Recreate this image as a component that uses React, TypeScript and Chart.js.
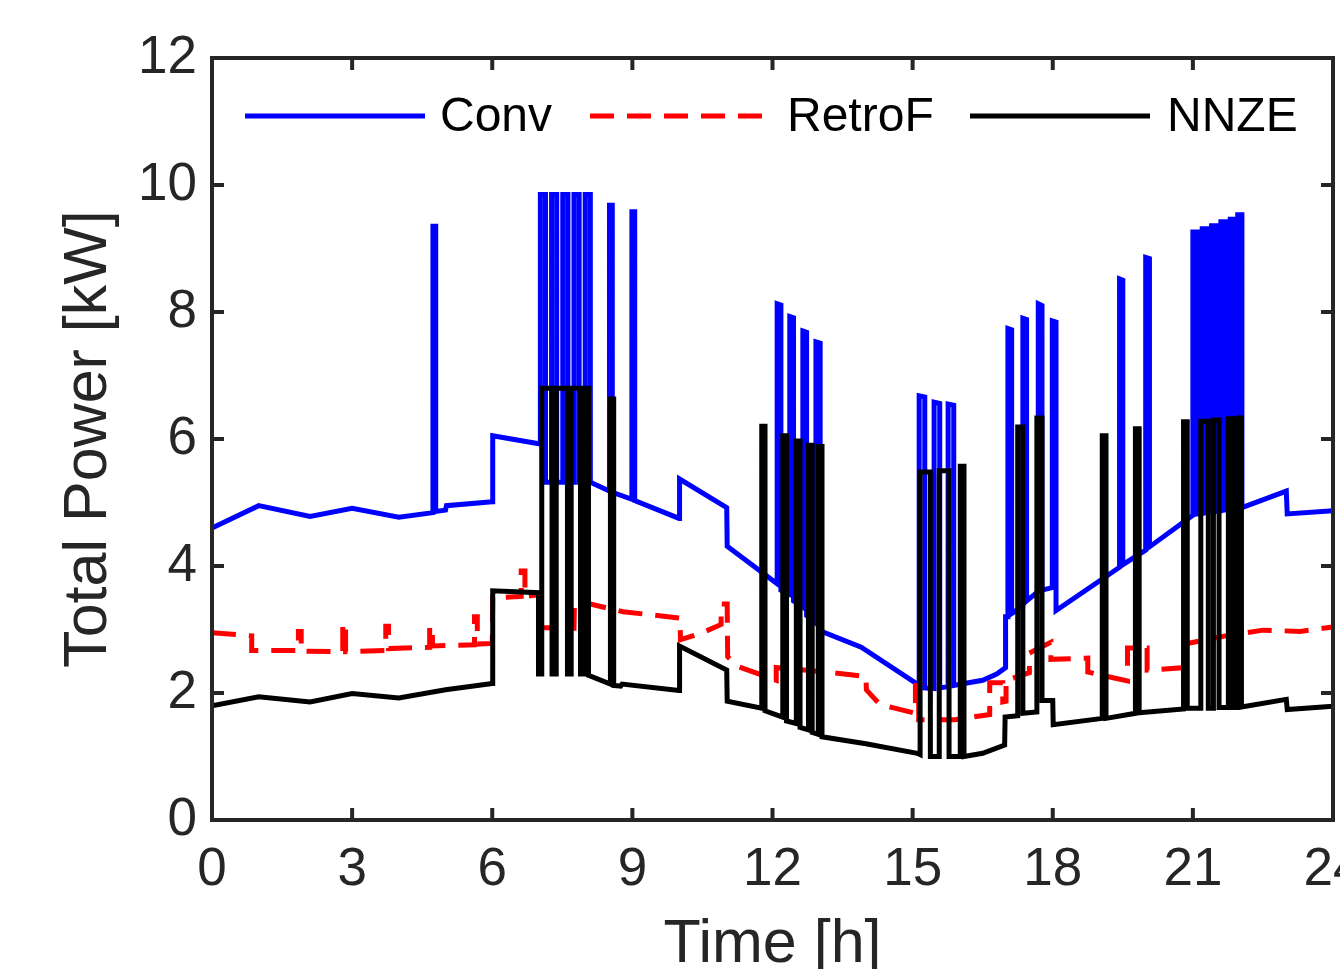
import React, { useEffect, useRef } from "react";
import { Chart, registerables } from "chart.js";

Chart.register(...registerables);

// ---------- data ----------
const X_TICKS = [0, 3, 6, 9, 12, 15, 18, 21, 24];
const Y_TICKS = [0, 2, 4, 6, 8, 10, 12];
const SERIES_LABELS = ["Conv", "RetroF", "NNZE"];
const X_TITLE = "Time [h]";
const Y_TITLE = "Total Power [kW]";

// [time h, power kW]
const CONV: [number, number][] = [
  [0, 4.6], [1.0, 4.95], [2.1, 4.78], [3.0, 4.91], [4.0, 4.77], [4.73, 4.84],
  [4.73, 9.35], [4.79, 9.35], [4.79, 4.86], [5.0, 4.88], [5.02, 4.95], [6.0, 5.01],
  [6.01, 6.05], [7.03, 5.92],
  [7.03, 9.85], [7.14, 9.85], [7.14, 5.32], [7.27, 5.32], [7.27, 9.85], [7.38, 9.85],
  [7.38, 5.32], [7.51, 5.32], [7.51, 9.85], [7.62, 9.85], [7.62, 5.32], [7.75, 5.32],
  [7.75, 9.85], [7.86, 9.85], [7.86, 5.32], [7.99, 5.32], [7.99, 9.85], [8.1, 9.85],
  [8.1, 5.32], [8.51, 5.18], [8.51, 9.68], [8.57, 9.68],
  [8.57, 5.16], [8.99, 5.05], [8.99, 9.58], [9.05, 9.58], [9.05, 5.03], [10.0, 4.75],
  [10.01, 5.37], [11.02, 4.92], [11.03, 4.31], [12.1, 3.72],
  [12.1, 8.13], [12.18, 8.11], [12.18, 3.62], [12.37, 3.55], [12.37, 7.93], [12.45, 7.91],
  [12.45, 3.45], [12.65, 3.35], [12.65, 7.7], [12.73, 7.68], [12.73, 3.22], [12.93, 3.1],
  [12.93, 7.53], [13.02, 7.51], [13.02, 2.98], [13.9, 2.72], [15.14, 2.12],
  [15.14, 6.68], [15.26, 6.66], [15.26, 2.08], [15.46, 2.07], [15.46, 6.58], [15.58, 6.56],
  [15.58, 2.08], [15.76, 2.1], [15.76, 6.55], [15.88, 6.53], [15.88, 2.12], [16.1, 2.15],
  [16.5, 2.2], [16.8, 2.3], [16.99, 2.4], [16.99, 3.2], [17.04, 3.2],
  [17.04, 7.74], [17.12, 7.72], [17.12, 3.25], [17.36, 3.37], [17.36, 7.9], [17.44, 7.88],
  [17.44, 3.45], [17.69, 3.6], [17.69, 8.13], [17.77, 8.1], [17.77, 3.62], [17.99, 3.66],
  [17.99, 7.86], [18.07, 7.84], [18.07, 3.3], [19.43, 3.98], [19.43, 8.52], [19.5, 8.5],
  [19.5, 4.02], [19.99, 4.25], [19.99, 8.86], [20.07, 8.84], [20.07, 4.3], [21.0, 4.8],
  [21.0, 9.26], [21.1, 9.26], [21.1, 4.82], [21.2, 4.83], [21.2, 9.31], [21.3, 9.31],
  [21.3, 4.84], [21.4, 4.85], [21.4, 9.36], [21.5, 9.36], [21.5, 4.86], [21.6, 4.87],
  [21.6, 9.42], [21.7, 9.42], [21.7, 4.88], [21.8, 4.88], [21.8, 9.46], [21.88, 9.46],
  [21.88, 4.89], [21.96, 4.9], [21.96, 9.53], [22.05, 9.53], [22.05, 4.92], [23.0, 5.18],
  [23.02, 4.82], [24, 4.87],
];

const RETROF: [number, number][] = [
  [0, 2.95], [0.85, 2.9], [0.85, 2.67], [1.85, 2.67], [1.85, 2.97], [1.91, 2.97],
  [1.91, 2.66], [2.8, 2.65], [2.8, 3.1], [2.86, 3.1], [2.86, 2.65], [3.72, 2.67],
  [3.72, 3.05], [3.78, 3.05], [3.78, 2.7], [4.66, 2.72], [4.66, 3.05], [4.72, 3.05],
  [4.72, 2.74], [5.62, 2.76], [5.62, 3.2], [5.68, 3.2], [5.68, 2.77], [6.0, 2.78],
  [6.01, 3.5], [6.62, 3.52], [6.62, 3.92], [6.7, 3.92], [6.7, 3.52], [7.0, 3.55],
  [7.01, 3.03], [7.75, 3.02], [7.76, 3.42], [8.1, 3.4], [8.8, 3.28], [9.9, 3.19],
  [10.02, 3.18], [10.03, 2.84], [10.5, 2.95], [10.9, 3.08], [10.9, 3.4], [11.03, 3.4],
  [11.04, 2.57], [11.25, 2.42], [12.08, 2.2], [12.08, 2.4], [13.3, 2.32], [14.0, 2.26],
  [14.01, 2.05], [14.3, 1.82], [15.06, 1.68], [15.06, 2.12], [15.13, 2.12], [15.13, 1.58],
  [15.9, 1.58], [16.65, 1.66], [16.65, 2.16], [16.93, 2.16], [16.93, 1.86], [17.0, 1.87],
  [17.0, 2.2], [17.5, 2.32], [17.5, 2.63], [17.96, 2.8], [17.96, 2.53], [18.75, 2.55],
  [18.75, 2.33], [19.6, 2.19], [19.6, 2.71], [20.02, 2.71], [20.02, 2.36], [20.82, 2.4],
  [20.82, 2.77], [21.7, 2.9], [22.5, 2.99], [23.3, 2.97], [24, 3.04],
];

const NNZE: [number, number][] = [
  [0, 1.8], [1.0, 1.94], [2.1, 1.86], [3.0, 1.99], [4.0, 1.92], [5.0, 2.05], [6.0, 2.15],
  [6.01, 3.61], [6.99, 3.58], [6.99, 2.3], [7.06, 2.3], [7.06, 6.8], [7.28, 6.8],
  [7.28, 2.3], [7.37, 2.3], [7.37, 6.8], [7.61, 6.8], [7.61, 2.3], [7.69, 2.3],
  [7.69, 6.8], [7.89, 6.8], [7.89, 2.3], [7.98, 2.3], [7.98, 6.8], [8.06, 6.8],
  [8.06, 2.28], [8.53, 2.14], [8.53, 6.63], [8.6, 6.63], [8.6, 2.12], [8.75, 2.11],
  [8.78, 2.14], [10.0, 2.04], [10.01, 2.74], [11.02, 2.36], [11.03, 1.87], [11.77, 1.76],
  [11.77, 6.2], [11.84, 6.2], [11.84, 1.72], [12.22, 1.62], [12.22, 6.05], [12.3, 6.05],
  [12.3, 1.56], [12.51, 1.52], [12.51, 5.97], [12.59, 5.97], [12.59, 1.46], [12.77, 1.42],
  [12.77, 5.9], [12.85, 5.9], [12.85, 1.38], [12.98, 1.35], [12.98, 5.88], [13.06, 5.88],
  [13.06, 1.31], [14.0, 1.2], [15.1, 1.05], [15.16, 1.03], [15.16, 5.48], [15.38, 5.48],
  [15.38, 1.0], [15.57, 1.0], [15.57, 5.5], [15.78, 5.5], [15.78, 1.0], [16.02, 1.0],
  [16.02, 5.57], [16.1, 5.57], [16.1, 1.0], [16.5, 1.05], [16.97, 1.18], [16.98, 1.62],
  [17.25, 1.64], [17.25, 6.19], [17.36, 6.19], [17.36, 1.68], [17.66, 1.7], [17.66, 6.33],
  [17.77, 6.33], [17.77, 1.88], [18.0, 1.88], [18.01, 1.5], [19.06, 1.6], [19.06, 6.05],
  [19.14, 6.05], [19.14, 1.6], [19.77, 1.68], [19.77, 6.16], [19.85, 6.16], [19.85, 1.69],
  [20.8, 1.75], [20.8, 6.27], [20.88, 6.27], [20.88, 1.76], [21.17, 1.76], [21.17, 6.28],
  [21.33, 6.28], [21.33, 1.76], [21.44, 1.76], [21.44, 6.3], [21.56, 6.3], [21.56, 1.77],
  [21.76, 1.77], [21.76, 6.32], [21.86, 6.32], [21.86, 1.77], [21.95, 1.77], [21.95, 6.33],
  [22.04, 6.33], [22.04, 1.78], [23.0, 1.9], [23.02, 1.74], [24, 1.79],
];

// ---------- layout / style ----------
const CANVAS_W = 1400;
const CANVAS_H = 1000;
const PLOT_LEFT = 212;
const PLOT_RIGHT = 1333;
const PLOT_TOP = 58;
const PLOT_BOTTOM = 820;
const FONT = "'Liberation Sans', Arial, Helvetica, sans-serif";
const AXIS_COLOR = "#262626";
const LINE_W = 5;

const toXY = (pts: [number, number][]) => pts.map(([x, y]) => ({ x, y }));

const framePlugin = {
  id: "matlabFrame",
  afterDatasetsDraw(chart: any) {
    const { ctx, chartArea, scales } = chart;
    const { left, right, top, bottom } = chartArea;
    const L = 12;
    ctx.save();
    ctx.strokeStyle = AXIS_COLOR;
    ctx.lineWidth = 4;
    ctx.lineCap = "butt";
    ctx.setLineDash([]);
    scales.x.ticks.forEach((t: any) => {
      const px = scales.x.getPixelForValue(t.value);
      ctx.beginPath();
      ctx.moveTo(px, bottom);
      ctx.lineTo(px, bottom - L);
      ctx.moveTo(px, top);
      ctx.lineTo(px, top + L);
      ctx.stroke();
    });
    scales.y.ticks.forEach((t: any) => {
      const py = scales.y.getPixelForValue(t.value);
      ctx.beginPath();
      ctx.moveTo(left, py);
      ctx.lineTo(left + L, py);
      ctx.moveTo(right, py);
      ctx.lineTo(right - L, py);
      ctx.stroke();
    });
    ctx.strokeRect(left, top, right - left, bottom - top);
    ctx.restore();
  },
};

const LEGEND_SLOTS = [
  { x0: 33, x1: 213, tx: 228 },
  { x0: 378, x1: 558, tx: 575 },
  { x0: 758, x1: 938, tx: 955 },
];

const legendPlugin = {
  id: "insideLegend",
  afterDraw(chart: any) {
    const { ctx, chartArea } = chart;
    const y = chartArea.top + 58;
    ctx.save();
    chart.data.datasets.forEach((ds: any, i: number) => {
      const slot = LEGEND_SLOTS[i];
      ctx.beginPath();
      ctx.strokeStyle = ds.borderColor;
      ctx.lineWidth = ds.borderWidth;
      ctx.lineCap = "butt";
      ctx.setLineDash(ds.borderDash || []);
      ctx.moveTo(chartArea.left + slot.x0, y);
      ctx.lineTo(chartArea.left + slot.x1, y);
      ctx.stroke();
      ctx.setLineDash([]);
      ctx.fillStyle = "#000";
      ctx.font = `48px ${FONT}`;
      ctx.textAlign = "left";
      ctx.textBaseline = "middle";
      ctx.fillText(ds.label, chartArea.left + slot.tx, y + 2);
    });
    ctx.restore();
  },
};

export default function App() {
  const ref = useRef<HTMLCanvasElement | null>(null);

  useEffect(() => {
    if (!ref.current) return;
    const chart = new Chart(ref.current, {
      type: "line",
      data: {
        datasets: [
          {
            label: SERIES_LABELS[0],
            data: toXY(CONV),
            borderColor: "#0000ff",
            backgroundColor: "#0000ff",
            borderWidth: LINE_W,
            order: 3,
          },
          {
            label: SERIES_LABELS[1],
            data: toXY(RETROF),
            borderColor: "#ff0000",
            backgroundColor: "#ff0000",
            borderWidth: LINE_W,
            borderDash: [24, 13],
            order: 2,
          },
          {
            label: SERIES_LABELS[2],
            data: toXY(NNZE),
            borderColor: "#000000",
            backgroundColor: "#000000",
            borderWidth: LINE_W,
            order: 1,
          },
        ],
      },
      options: {
        animation: false,
        responsive: false,
        devicePixelRatio: 1,
        layout: {
          padding: { left: 0, top: PLOT_TOP, right: CANVAS_W - PLOT_RIGHT, bottom: 0 },
        },
        elements: {
          point: { radius: 0, hoverRadius: 0 },
          line: { tension: 0, borderCapStyle: "butt", borderJoinStyle: "miter", fill: false },
        },
        plugins: {
          legend: { display: false },
          tooltip: { enabled: false },
        },
        events: [],
        scales: {
          x: {
            type: "linear",
            position: "bottom",
            min: 0,
            max: 24,
            afterBuildTicks: (scale: any) => {
              scale.ticks = X_TICKS.map((v) => ({ value: v }));
            },
            ticks: {
              autoSkip: false,
              maxRotation: 0,
              padding: 19,
              color: AXIS_COLOR,
              font: { family: FONT, size: 53 },
              callback: (v: any) => String(v),
            },
            grid: { display: false, drawTicks: false },
            border: { display: false },
            title: {
              display: true,
              text: X_TITLE,
              color: AXIS_COLOR,
              font: { family: FONT, size: 61 },
              padding: { top: 0, bottom: 18 },
            },
            afterFit: (scale: any) => {
              scale.height = CANVAS_H - PLOT_BOTTOM;
            },
          },
          y: {
            type: "linear",
            min: 0,
            max: 12,
            afterBuildTicks: (scale: any) => {
              scale.ticks = Y_TICKS.map((v) => ({ value: v }));
            },
            ticks: {
              autoSkip: false,
              padding: 15,
              color: AXIS_COLOR,
              font: { family: FONT, size: 53 },
              callback: (v: any) => String(v),
            },
            grid: { display: false, drawTicks: false },
            border: { display: false },
            title: {
              display: true,
              text: Y_TITLE,
              color: AXIS_COLOR,
              font: { family: FONT, size: 61 },
              padding: { top: 53, bottom: 0 },
            },
            afterFit: (scale: any) => {
              scale.width = PLOT_LEFT;
            },
          },
        },
      },
      plugins: [framePlugin, legendPlugin],
    } as any);
    return () => chart.destroy();
  }, []);

  return (
    <div
      style={{
        position: "absolute",
        left: 0,
        top: 0,
        width: 1340,
        height: 969,
        overflow: "hidden",
        background: "#ffffff",
      }}
    >
      <canvas ref={ref} width={CANVAS_W} height={CANVAS_H} style={{ display: "block" }} />
    </div>
  );
}
